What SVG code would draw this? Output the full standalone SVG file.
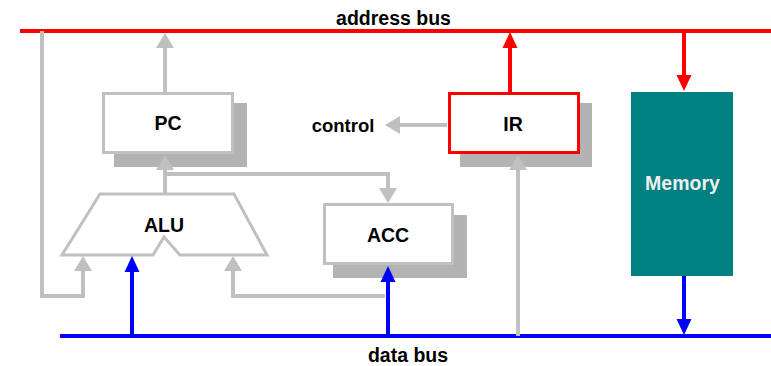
<svg xmlns="http://www.w3.org/2000/svg" width="771" height="366" viewBox="0 0 771 366">
<style>
text{font-family:"Liberation Sans",Arial,sans-serif;font-weight:bold;font-size:19.5px;fill:#000;text-anchor:middle}
.box{fill:#fff;stroke:#c0c0c0;stroke-width:3}
.shadow{fill:#b3b3b3}
.g{fill:none;stroke:#c0c0c0;stroke-width:4}
.r{fill:none;stroke:#ff0000;stroke-width:4}
.b{fill:none;stroke:#0000ff;stroke-width:4}
</style>
<defs>
<marker id="ag" markerUnits="userSpaceOnUse" markerWidth="16" markerHeight="18" refX="0" refY="9" orient="auto" overflow="visible"><path d="M-1,0 L14,9 L-1,18 Z" fill="#c0c0c0"/></marker>
<marker id="ar" markerUnits="userSpaceOnUse" markerWidth="16" markerHeight="16" refX="0" refY="7.5" orient="auto" overflow="visible"><path d="M-1,0 L15,7.5 L-1,15 Z" fill="#ff0000"/></marker>
<marker id="ab" markerUnits="userSpaceOnUse" markerWidth="16" markerHeight="16" refX="0" refY="7.5" orient="auto" overflow="visible"><path d="M-1,0 L15,7.5 L-1,15 Z" fill="#0000ff"/></marker>
</defs>
<rect width="771" height="366" fill="#fff"/>
<g id="address-bus">
<line x1="20" y1="31" x2="771" y2="31" class="r"/>
<text x="393.5" y="25">address bus</text>
</g>
<g id="data-bus">
<line x1="60" y1="336" x2="771" y2="336" class="b"/>
<text x="408" y="362">data bus</text>
</g>
<g id="pc">
<rect x="114" y="103" width="133" height="64" class="shadow"/>
<rect x="103.5" y="93.5" width="129" height="59" class="box"/>
<text x="168" y="130">PC</text>
</g>
<g id="ir">
<rect x="460" y="103" width="132" height="64" class="shadow"/>
<rect x="449.5" y="93.5" width="129" height="59" class="box" style="stroke:#ff0000"/>
<text x="513" y="131">IR</text>
</g>
<g id="acc">
<rect x="333" y="215" width="134" height="63" class="shadow"/>
<rect x="324.5" y="204.5" width="128" height="59" class="box"/>
<text x="388" y="242">ACC</text>
</g>
<g id="alu">
<path d="M100,194 L234,194 L267,255 L180,255 L164,237 L153,255 L62,255 Z" class="box"/>
<text x="164" y="232">ALU</text>
</g>
<g id="memory">
<rect x="631" y="92" width="102" height="184" fill="#008080"/>
<text x="682.5" y="190" style="fill:#eeeeee">Memory</text>
</g>
<g id="control">
<text x="343" y="132" style="font-size:18.5px">control</text>
</g>
<g id="connectors">
<path d="M165,92 V47" class="g" marker-end="url(#ag)"/>
<path d="M165,194 V169" class="g" marker-end="url(#ag)"/>
<path d="M165,174 H388 V189" class="g" marker-end="url(#ag)"/>
<path d="M42,31 V296 H83 V270" class="g" marker-end="url(#ag)"/>
<path d="M385,296 H233 V270" class="g" marker-end="url(#ag)"/>
<path d="M518,336 V169" class="g" marker-end="url(#ag)"/>
<path d="M447,125 H399" class="g" marker-end="url(#ag)"/>
<path d="M510,92 V47" class="r" marker-end="url(#ar)"/>
<path d="M684,31 V76" class="r" marker-end="url(#ar)"/>
<path d="M132,336 V271" class="b" marker-end="url(#ab)"/>
<path d="M388,336 V281" class="b" marker-end="url(#ab)"/>
<path d="M684,276 V320" class="b" marker-end="url(#ab)"/>
</g>
</svg>
